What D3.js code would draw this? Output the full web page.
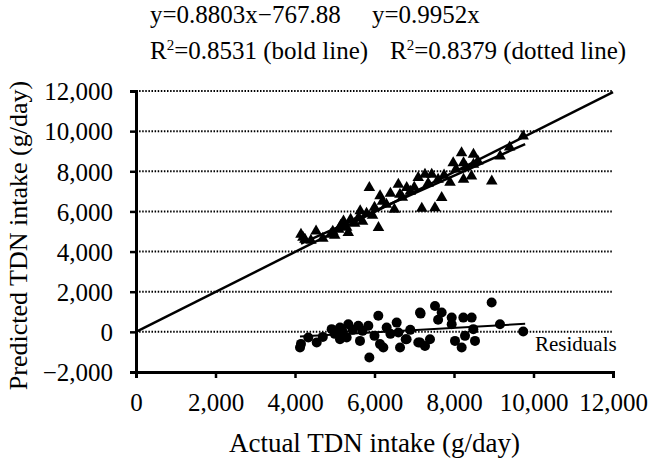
<!DOCTYPE html>
<html>
<head>
<meta charset="utf-8">
<script src="https://cdn.jsdelivr.net/npm/d3@7.9.0/dist/d3.min.js"></script>
<style>
  body { margin: 0; background: #fff; }
  svg text { font-family: "Liberation Serif", serif; fill: #000; }
</style>
</head>
<body>
<svg id="chart" width="648" height="459"></svg>
<script>
// measured values (actual TDN intake vs predicted), g/day
const predActual = [4150, 4200, 4250, 4530, 4400, 4700, 4900, 4950, 5000, 5100, 5150, 5220, 5300, 5340, 5400, 5500, 5600, 5640, 5700, 5800, 5870, 5950, 6000, 6100, 6140, 6200, 6300, 6400, 6500, 6600, 6640, 6700, 6810, 6900, 7000, 7100, 7190, 7270, 7350, 7440, 7520, 7600, 7690, 7750, 7900, 7980, 8050, 8190, 8240, 8240, 8300, 8440, 8490, 8490, 8600, 8950, 9160, 9400, 9740];
const predicted = [4850, 4700, 4600, 5020, 4550, 4650, 4860, 5000, 4800, 5100, 5300, 5520, 5200, 4940, 5600, 5400, 5700, 6020, 5500, 5900, 7180, 5800, 6200, 5190, 6770, 6500, 6350, 6900, 6100, 7350, 6850, 6700, 7180, 7000, 7200, 7680, 6150, 7840, 7400, 7840, 6180, 7600, 6680, 7800, 7440, 8420, 8100, 8920, 8420, 7600, 8200, 7760, 8840, 8340, 8500, 7510, 8750, 9200, 9750];

const resActual = [4126, 4150, 4335, 4546, 4700, 4922, 5000, 5132, 5132, 5200, 5300, 5341, 5450, 5593, 5635, 5700, 5845, 5870, 6000, 6096, 6138, 6222, 6306, 6400, 6558, 6600, 6642, 6785, 6808, 6900, 7101, 7145, 7145, 7160, 7270, 7396, 7522, 7600, 7690, 7942, 7942, 8025, 8193, 8235, 8277, 8444, 8486, 8528, 8947, 9157, 9742];
const residuals = [-780, -600, -280, -530, -250, 135, -100, 215, -365, 0, -280, 380, 100, 300, -450, 50, 300, -1280, -200, 800, -610, -780, 215, -100, 460, -35, -780, -365, -365, 100, -530, 960, -530, 910, -700, -365, 1290, 600, 960, 710, 380, -450, -780, 710, -200, 710, 135, -450, 1460, 380, 15];

const xTicks = [0, 2000, 4000, 6000, 8000, 10000, 12000];
const yTicks = [-2000, 0, 2000, 4000, 6000, 8000, 10000, 12000];

// fitted lines as drawn in the figure
const throughOrigin = { slope: 0.9952, intercept: 0, from: 0, to: 12000 };
const boldFit = { slope: 0.88, intercept: 741, from: 4150, to: 9790 };
const residualFit = { from: [4125, -230], to: [9790, 400] };

const serif = "Liberation Serif";
const svg = d3.select("#chart");
const x = d3.scaleLinear().domain([0, 12000]).range([136, 613]);
const y = d3.scaleLinear().domain([-2000, 12000]).range([372, 91]);
const fmt = d3.format(",");

// grid
svg.append("g")
  .selectAll("line")
  .data(yTicks.filter(d => d > -2000))
  .join("line")
  .attr("x1", x(0)).attr("x2", x(12000))
  .attr("y1", d => y(d)).attr("y2", d => y(d))
  .attr("stroke", "#000")
  .attr("stroke-width", 2)
  .attr("stroke-dasharray", "1.5,1.6");

// axes
const xAxis = svg.append("g")
  .attr("transform", `translate(0,${y(-2000)})`)
  .call(d3.axisBottom(x).tickValues(xTicks).tickFormat(fmt).tickSize(6).tickPadding(15));
const yAxis = svg.append("g")
  .attr("transform", `translate(${x(0)},0)`)
  .call(d3.axisLeft(y).tickValues(yTicks).tickFormat(fmt).tickSize(6).tickPadding(17));
[xAxis, yAxis].forEach(g => {
  g.attr("font-family", serif);
  g.select(".domain").attr("stroke", "#000").attr("stroke-width", 3);
  g.selectAll(".tick line").attr("stroke", "#000").attr("stroke-width", 2.5);
  g.selectAll(".tick text").attr("font-size", 25);
});
xAxis.selectAll(".tick text").attr("dy", "0.71em");
yAxis.selectAll(".tick text").attr("dy", "0.35em");

// lines
const line = d3.line().x(d => x(d[0])).y(d => y(d[1]));
const seg = f => [[f.from, f.slope * f.from + f.intercept], [f.to, f.slope * f.to + f.intercept]];
svg.append("path").attr("d", line(seg(throughOrigin)))
  .attr("stroke", "#000").attr("stroke-width", 2.5).attr("fill", "none");
svg.append("path").attr("d", line(seg(boldFit)))
  .attr("stroke", "#000").attr("stroke-width", 2.5).attr("fill", "none");
svg.append("path").attr("d", line([residualFit.from, residualFit.to]))
  .attr("stroke", "#000").attr("stroke-width", 2).attr("fill", "none");

// points
const tri = d3.symbol().type(d3.symbolTriangle).size(58);
svg.append("g")
  .selectAll("path")
  .data(predActual.map((a, i) => [a, predicted[i]]))
  .join("path")
  .attr("d", tri)
  .attr("transform", d => `translate(${x(d[0])},${y(d[1])})`)
  .attr("fill", "#000");

svg.append("g")
  .selectAll("circle")
  .data(resActual.map((a, i) => [a, residuals[i]]))
  .join("circle")
  .attr("cx", d => x(d[0])).attr("cy", d => y(d[1]))
  .attr("r", 5)
  .attr("fill", "#000");

// texts
svg.append("text").attr("x", 535).attr("y", 351)
  .attr("font-family", serif).attr("font-size", 21).text("Residuals");

const header = svg.append("g").attr("font-family", serif).attr("font-size", 25);
header.append("text").attr("x", 150).attr("y", 23).text("y=0.8803x\u2212767.88");
header.append("text").attr("x", 372).attr("y", 23).text("y=0.9952x");
header.append("text").attr("x", 150).attr("y", 59).html("R<tspan font-size='15' dy='-9'>2</tspan><tspan dy='9'>=0.8531 (bold line)</tspan>");
header.append("text").attr("x", 390).attr("y", 59).html("R<tspan font-size='15' dy='-9'>2</tspan><tspan dy='9'>=0.8379 (dotted line)</tspan>");

svg.append("text")
  .attr("x", x(6000)).attr("y", 452)
  .attr("font-family", serif)
  .attr("text-anchor", "middle").attr("font-size", 27)
  .text("Actual TDN intake (g/day)");
svg.append("text")
  .attr("transform", `translate(27,${(91 + 372) / 2 + 4}) rotate(-90)`)
  .attr("font-family", serif)
  .attr("text-anchor", "middle").attr("font-size", 26)
  .text("Predicted TDN intake (g/day)");
</script>
</body>
</html>
